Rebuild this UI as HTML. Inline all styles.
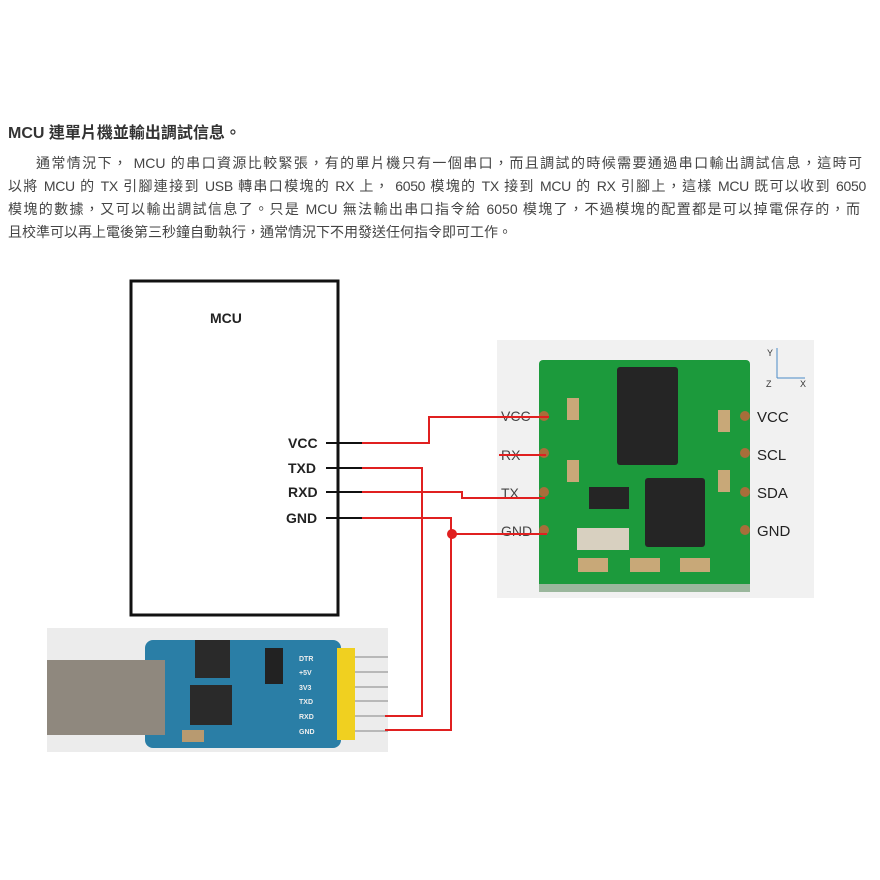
<!DOCTYPE html>
<html><head><meta charset="utf-8"><style>
html,body{margin:0;padding:0;background:#fff;width:880px;height:880px;overflow:hidden}
.t{position:absolute;left:8px;top:119px;font:bold 16px "Liberation Sans","Noto Sans CJK TC",sans-serif;color:#333}
.l{position:absolute;left:8px;width:858px;font:14px/23px "Liberation Sans","Noto Sans CJK TC",sans-serif;color:#444;white-space:nowrap;text-align:justify;text-align-last:justify}
svg{position:absolute;left:0;top:0}
</style></head><body>
<div class="t">MCU 連單片機並輸出調試信息。</div>
<div class="l" style="top:152px;left:36px;width:826px">通常情況下， MCU 的串口資源比較緊張，有的單片機只有一個串口，而且調試的時候需要通過串口輸出調試信息，這時可</div>
<div class="l" style="top:175px;letter-spacing:-0.3px">以將 MCU 的 TX 引腳連接到 USB 轉串口模塊的 RX 上， 6050 模塊的 TX 接到 MCU 的 RX 引腳上，這樣 MCU 既可以收到 6050</div>
<div class="l" style="top:198px;width:852px">模塊的數據，又可以輸出調試信息了。只是 MCU 無法輸出串口指令給 6050 模塊了，不過模塊的配置都是可以掉電保存的，而</div>
<div class="l" style="top:221px;text-align-last:left">且校準可以再上電後第三秒鐘自動執行，通常情況下不用發送任何指令即可工作。</div>
<svg width="880" height="880" font-family="Liberation Sans,sans-serif">
<rect x="131" y="281" width="207" height="334" fill="#fff" stroke="#111" stroke-width="3"/>
<text x="210" y="323" font-weight="bold" font-size="14" fill="#222">MCU</text>
<g font-weight="bold" font-size="14" fill="#222">
<text x="288" y="448">VCC</text><text x="288" y="473">TXD</text><text x="288" y="497">RXD</text><text x="286" y="523">GND</text></g>
<g stroke="#111" stroke-width="2"><line x1="326" y1="443" x2="362" y2="443"/><line x1="326" y1="468" x2="362" y2="468"/><line x1="326" y1="492" x2="362" y2="492"/><line x1="326" y1="518" x2="362" y2="518"/></g>
<rect x="497" y="340" width="317" height="258" fill="#f1f1f1"/>
<rect x="539" y="360" width="211" height="232" rx="4" fill="#1c9a3c"/>
<rect x="539" y="584" width="211" height="8" fill="#9bb79d"/>
<rect x="617" y="367" width="61" height="98" rx="3" fill="#252525"/>
<rect x="645" y="478" width="60" height="69" rx="3" fill="#252525"/>
<rect x="589" y="487" width="40" height="22" fill="#252525"/>
<rect x="577" y="528" width="52" height="22" fill="#d8d0c0"/>
<rect x="567" y="398" width="12" height="22" fill="#c8a878"/><rect x="567" y="460" width="12" height="22" fill="#c8a878"/>
<rect x="718" y="410" width="12" height="22" fill="#c8a878"/><rect x="718" y="470" width="12" height="22" fill="#c8a878"/>
<rect x="578" y="558" width="30" height="14" fill="#c8a878"/><rect x="630" y="558" width="30" height="14" fill="#c8a878"/><rect x="680" y="558" width="30" height="14" fill="#c8a878"/>
<g fill="#a86e3a"><circle cx="544" cy="416" r="5"/><circle cx="544" cy="453" r="5"/><circle cx="544" cy="492" r="5"/><circle cx="544" cy="530" r="5"/>
<circle cx="745" cy="416" r="5"/><circle cx="745" cy="453" r="5"/><circle cx="745" cy="492" r="5"/><circle cx="745" cy="530" r="5"/></g>
<g font-size="15" fill="#222"><text x="757" y="422">VCC</text><text x="757" y="460">SCL</text><text x="757" y="498">SDA</text><text x="757" y="536">GND</text></g>
<g font-size="14" fill="#444"><text x="501" y="421">VCC</text><text x="501" y="460">RX</text><text x="501" y="498">TX</text><text x="501" y="536">GND</text></g>
<g stroke="#4a8ac8" stroke-width="1"><line x1="777" y1="348" x2="777" y2="378"/><line x1="777" y1="378" x2="805" y2="378"/></g>
<g font-size="9" fill="#333"><text x="767" y="356">Y</text><text x="766" y="387">Z</text><text x="800" y="387">X</text></g>
<rect x="47" y="628" width="341" height="124" fill="#ececec"/>
<rect x="145" y="640" width="196" height="108" rx="8" fill="#2a7ea6"/>
<rect x="47" y="660" width="118" height="75" fill="#8f887e"/>
<rect x="195" y="640" width="35" height="38" fill="#2a2a2a"/>
<rect x="190" y="685" width="42" height="40" fill="#2a2a2a"/>
<rect x="265" y="648" width="18" height="36" fill="#222"/>
<rect x="182" y="730" width="22" height="12" fill="#b89a70"/>
<rect x="337" y="648" width="18" height="92" fill="#f0d020"/>
<g stroke="#b8b8b8" stroke-width="2"><line x1="355" y1="657" x2="388" y2="657"/><line x1="355" y1="672" x2="388" y2="672"/><line x1="355" y1="687" x2="388" y2="687"/><line x1="355" y1="701" x2="388" y2="701"/><line x1="355" y1="716" x2="388" y2="716"/><line x1="355" y1="731" x2="388" y2="731"/></g>
<g font-size="7" fill="#eee" font-weight="bold"><text x="299" y="661">DTR</text><text x="299" y="675">+5V</text><text x="299" y="690">3V3</text><text x="299" y="704">TXD</text><text x="299" y="719">RXD</text><text x="299" y="734">GND</text></g>
<g stroke="#e02020" stroke-width="2" fill="none">
<polyline points="362,443 429,443 429,417 549,417"/>
<polyline points="362,468 422,468 422,716 385,716"/>
<polyline points="362,492 462,492 462,498 545,498"/>
<polyline points="362,518 451,518 451,730 385,730"/>
<line x1="451" y1="534" x2="547" y2="534"/>
<line x1="499" y1="455" x2="546" y2="455"/>
</g>
<circle cx="452" cy="534" r="5" fill="#e02020"/>
</svg>
</body></html>
